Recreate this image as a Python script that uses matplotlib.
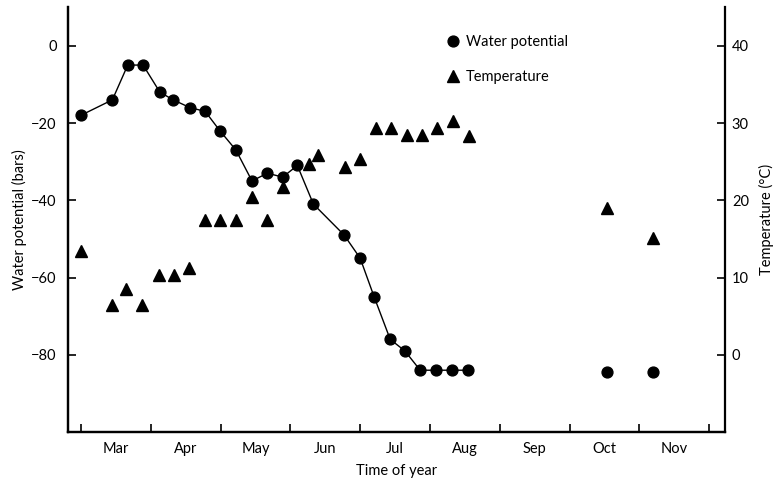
import matplotlib
matplotlib.use("Agg")
import matplotlib.pyplot as plt
from matplotlib.lines import Line2D

plt.rcParams['font.family'] = ['Lato', 'DejaVu Sans']
plt.rcParams['font.size'] = 10.5

# time axis: months counted from 1 Jan (2 = 1 Mar, 3 = 1 Apr, ...)
month_edges = [2, 3, 4, 5, 6, 7, 8, 9, 10, 11]
month_mids = [2.5, 3.5, 4.5, 5.5, 6.5, 7.5, 8.5, 9.5, 10.5]
month_names = ["Mar", "Apr", "May", "Jun", "Jul", "Aug", "Sep", "Oct", "Nov"]

# water potential (bars), connected series
wp_x = [2.0, 2.45, 2.67, 2.89, 3.13, 3.32, 3.56, 3.78, 3.99, 4.22, 4.45, 4.67,
        4.89, 5.10, 5.33, 5.77, 6.0, 6.20, 6.43, 6.64, 6.86, 7.09, 7.31, 7.54]
wp_y = [-18, -14, -5, -5, -12, -14, -16, -17, -22, -27, -35, -33,
        -34, -31, -41, -49, -55, -65, -76, -79, -84, -84, -84, -84]
# late-season water potential (not connected)
wp_late_x = [9.54, 10.2]
wp_late_y = [-84.5, -84.5]

# temperature (°C)
t_x = [2.0, 2.44, 2.65, 2.88, 3.12, 3.33, 3.55, 3.78, 3.99, 4.22, 4.45, 4.67,
       4.89, 5.26, 5.39, 5.78, 6.0, 6.22, 6.44, 6.67, 6.88, 7.10, 7.33, 7.56,
       9.54, 10.2]
t_y = [13.4, 6.4, 8.5, 6.4, 10.3, 10.3, 11.2, 17.4, 17.4, 17.4, 20.4, 17.4,
       21.7, 24.7, 25.9, 24.3, 25.3, 29.4, 29.4, 28.5, 28.5, 29.4, 30.3, 28.3,
       19.0, 15.1]

fig = plt.figure(figsize=(7.77, 4.82), dpi=100)
ax = fig.add_axes([0.0875, 0.1037, 0.8455, 0.8815])
ax2 = ax.twinx()

ax.plot(wp_x, wp_y, color='black', linewidth=1.0, marker='o', markersize=7.8)
ax.plot(wp_late_x, wp_late_y, linestyle='none', color='black', marker='o', markersize=7.8)
ax2.plot(t_x, t_y, linestyle='none', color='black', marker='^', markersize=8)

ax.set_xlim(1.814, 11.226)
ax.set_ylim(-100, 10)
ax2.set_ylim(-10, 45)

ax.set_yticks([0, -20, -40, -60, -80])
ax2.set_yticks([0, 10, 20, 30, 40])
ax.set_xticks(month_edges)
ax.set_xticklabels([])
ax.set_xticks(month_mids, minor=True)
ax.set_xticklabels(month_names, minor=True)

ax.tick_params(axis='x', which='major', direction='in', length=6, width=1.2)
ax.tick_params(axis='x', which='minor', length=0, pad=7)
ax.tick_params(axis='y', direction='in', length=6, width=1.2, pad=8)
ax2.tick_params(axis='y', direction='in', length=6, width=1.2, pad=5)

for a in (ax, ax2):
    a.spines['top'].set_visible(False)
    for s in ('left', 'right', 'bottom'):
        a.spines[s].set_linewidth(1.6)
ax.spines['right'].set_visible(False)

ax.set_xlabel("Time of year", labelpad=6)
ax.set_ylabel("Water potential (bars)")
ax.yaxis.set_label_coords(-0.062, 0.5)
ax2.set_ylabel("Temperature (°C)", rotation=90)
ax2.yaxis.set_label_coords(1.052, 0.5)

handles = [Line2D([], [], linestyle='none', marker='o', color='black', markersize=7.8),
           Line2D([], [], linestyle='none', marker='^', color='black', markersize=8)]
fig.legend(handles, ["Water potential", "Temperature"], loc='upper left',
           bbox_to_anchor=(446 / 777, 1 - 35 / 482), frameon=False,
           borderpad=0, borderaxespad=0, handlelength=1.0, handletextpad=0.35,
           labelspacing=1.45)

fig.savefig("out.png", dpi=100)
